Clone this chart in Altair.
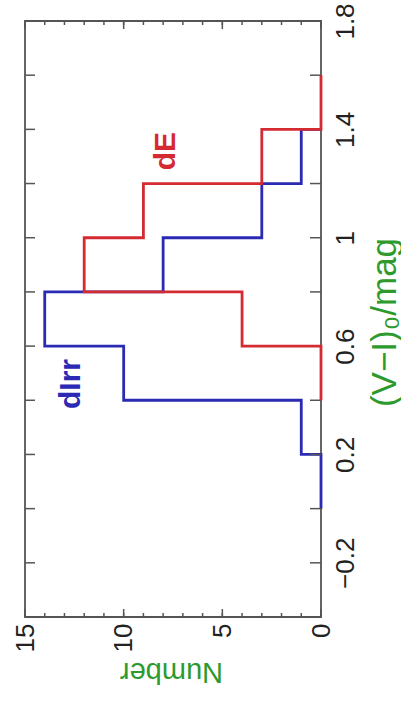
import altair as alt
import pandas as pd

# Histogram of (V-I)_0 colours: bin left edges and counts per bin (0.2 mag bins)
irr_edges = [0.0, 0.2, 0.4, 0.6, 0.8, 1.0, 1.2, 1.4]
irr_counts = [0, 1, 10, 14, 8, 3, 1, 0]
de_edges = [0.4, 0.6, 0.8, 1.0, 1.2, 1.4, 1.6]
de_counts = [0, 4, 12, 9, 3, 0, 0]

# Axis tick positions and labels
vi_ticks = [-0.4, -0.2, 0.0, 0.2, 0.4, 0.6, 0.8, 1.0, 1.2, 1.4, 1.6, 1.8]
vi_labels = [-0.2, 0.2, 0.6, 1.0, 1.4, 1.8]
num_minor = list(range(0, 16))
num_major = [0, 5, 10, 15]

# Series annotations
series_names = ["dIrr", "dE"]
series_colors = ["#2a2ab4", "#d42a32"]
annot_number = [12.65, 7.85]
annot_vi = [0.46, 1.32]

W, H = 296, 596
FONT = "Liberation Sans, Arial, Helvetica, sans-serif"
GREEN = "#2e9a2e"
FRAME = "#555555"

irr = pd.DataFrame({"vi": irr_edges, "n": irr_counts})
de = pd.DataFrame({"vi": de_edges, "n": de_counts})
annot = pd.DataFrame({"name": series_names, "n": annot_number, "vi": annot_vi,
                      "color": series_colors})

x_scale = alt.Scale(domain=[0, 15], reverse=True, nice=False, zero=False)
y_scale = alt.Scale(domain=[-0.4, 1.8], nice=False, zero=False)

x_axis = alt.Axis(
    orient="bottom", values=num_major, format="d",
    ticks=False, tickSize=0, domain=False, grid=False,
    labelAngle=270, labelAlign="right", labelBaseline="middle",
    labelPadding=6, labelFontSize=26, labelFont=FONT, labelColor="#222222",
    labelFlush=False, labelOverlap=False,
    title="Number", titleAngle=180, titleAlign="center", titleBaseline="middle",
    titleX=146, titleY=54, titleFontSize=29, titleFont=FONT,
    titleFontWeight="normal", titleColor=GREEN,
)
y_axis = alt.Axis(
    orient="right", values=vi_labels,
    labelExpr="datum.value == 1 ? '1' : replace(format(datum.value, '.1f'), '-', '\u2212')",
    ticks=False, tickSize=0, domain=False, grid=False,
    labelAngle=270, labelAlign="center", labelBaseline="top",
    labelPadding=11, labelFontSize=26, labelFont=FONT, labelColor="#222222",
    labelFlush=False, labelOverlap=False,
    title="(V\u2212I)\u2080/mag", titleAngle=270, titleAlign="center",
    titleBaseline="middle", titleX=63, titleY=301, titleFontSize=35,
    titleFont=FONT, titleFontWeight="normal", titleColor=GREEN,
)

base_x = alt.X("n:Q", scale=x_scale, axis=x_axis)
base_y = alt.Y("vi:Q", scale=y_scale, axis=y_axis)

irr_line = alt.Chart(irr).mark_line(
    interpolate="step-before", color=series_colors[0], strokeWidth=2.8
).encode(x=base_x, y=base_y, order=alt.Order("vi:Q"))

de_line = alt.Chart(de).mark_line(
    interpolate="step-before", color=series_colors[1], strokeWidth=2.8
).encode(x=alt.X("n:Q", scale=x_scale), y=alt.Y("vi:Q", scale=y_scale),
         order=alt.Order("vi:Q"))

labels = alt.Chart(annot).mark_text(
    angle=270, align="center", baseline="middle", font=FONT,
    fontSize=30, fontWeight="bold"
).encode(
    x=alt.X("n:Q", scale=x_scale),
    y=alt.Y("vi:Q", scale=y_scale),
    text="name:N",
    color=alt.Color("color:N", scale=None),
)

# Inward tick marks on all four sides of the frame
vi_df = pd.DataFrame({"vi": vi_ticks})
minor_df = pd.DataFrame({"n": num_minor})
major_df = pd.DataFrame({"n": num_major})
tick_style = dict(color=FRAME, strokeWidth=1.5)

vi_left = alt.Chart(vi_df).mark_rule(**tick_style).encode(
    y=alt.Y("vi:Q", scale=y_scale), x=alt.value(0), x2=alt.value(10))
vi_right = alt.Chart(vi_df).mark_rule(**tick_style).encode(
    y=alt.Y("vi:Q", scale=y_scale), x=alt.value(W - 11), x2=alt.value(W))
minor_bottom = alt.Chart(minor_df).mark_rule(**tick_style).encode(
    x=alt.X("n:Q", scale=x_scale), y=alt.value(H - 4), y2=alt.value(H))
minor_top = alt.Chart(minor_df).mark_rule(**tick_style).encode(
    x=alt.X("n:Q", scale=x_scale), y=alt.value(0), y2=alt.value(4))
major_bottom = alt.Chart(major_df).mark_rule(**tick_style).encode(
    x=alt.X("n:Q", scale=x_scale), y=alt.value(H - 8), y2=alt.value(H))
major_top = alt.Chart(major_df).mark_rule(**tick_style).encode(
    x=alt.X("n:Q", scale=x_scale), y=alt.value(0), y2=alt.value(8))

chart = alt.layer(
    irr_line, vi_left, vi_right, minor_bottom, minor_top, major_bottom,
    major_top, de_line, labels
).properties(
    width=W, height=H,
    autosize=alt.AutoSizeParams(type="none"),
    padding={"left": 25, "top": 21, "right": 80, "bottom": 85},
    background="white",
).configure_view(
    stroke=FRAME, strokeWidth=1.8
)

chart.save("out.html", embed_options={"renderer": "svg", "actions": False})
